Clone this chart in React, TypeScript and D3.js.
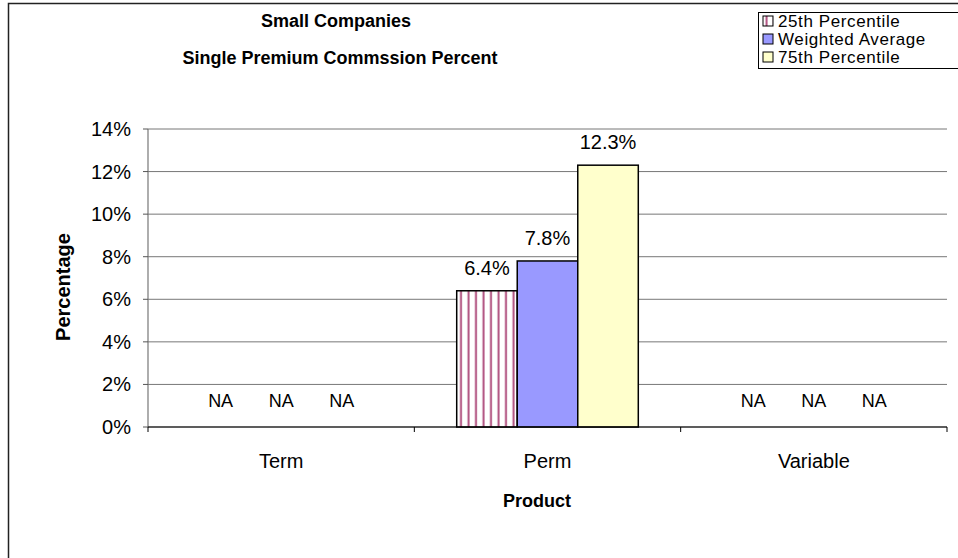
import React from "react";
import * as d3 from "d3";

const categories = ["Term", "Perm", "Variable"];
const seriesNames = ["25th Percentile", "Weighted Average", "75th Percentile"];
// null = NA
const p25: (number | null)[] = [null, 6.4, null];
const wavg: (number | null)[] = [null, 7.8, null];
const p75: (number | null)[] = [null, 12.3, null];
const yTicks = [0, 2, 4, 6, 8, 10, 12, 14];

const seriesValues = [p25, wavg, p75];
const fills = ["url(#vstripe)", "#9999FF", "#FFFFCC"];

const W = 958;
const H = 558;
const FONT = "Arial, 'Liberation Sans', sans-serif";

export default function App() {
  const left = 148;
  const right = 947;
  const top = 129;
  const bottom = 427;

  const x = d3.scaleBand<string>().domain(categories).range([left, right]).paddingInner(0).paddingOuter(0);
  const xs = d3.scaleBand<string>().domain(seriesNames).range([0, x.bandwidth()]).paddingOuter(0.7).paddingInner(0);
  const y = d3.scaleLinear().domain([0, 14]).range([bottom, top]);

  const tickEdges = [left, ...categories.map((c) => (x(c) as number) + x.bandwidth())];

  return (
    <div style={{ position: "absolute", left: 0, top: 0 }}>
      <svg width={W} height={H} style={{ display: "block", fontFamily: FONT }}>
        <defs>
          <pattern id="vstripe" patternUnits="userSpaceOnUse" width={7.5} height={10} x={0}>
            <rect width={7.5} height={10} fill="#ffffff" />
            <rect x={2.5} y={0} width={2} height={10} fill="#B0507F" />
          </pattern>
        </defs>
        <rect x={0} y={0} width={W} height={H} fill="#fff" />
        <rect x={8.5} y={3.5} width={980} height={600} fill="none" stroke="#222" strokeWidth={1.5} />

        {/* gridlines */}
        {yTicks.map((t) => (
          <line key={"g" + t} x1={left} x2={right} y1={y(t)} y2={y(t)} stroke="#777" strokeWidth={1} />
        ))}
        {/* y axis */}
        <line x1={left} x2={left} y1={top} y2={bottom} stroke="#777" strokeWidth={1.2} />
        {yTicks.map((t) => (
          <g key={"yt" + t}>
            <line x1={left - 5} x2={left} y1={y(t)} y2={y(t)} stroke="#555" strokeWidth={1} />
            <text x={131} y={y(t)} dy="0.35em" textAnchor="end" fontSize={20} fill="#000">
              {t}%
            </text>
          </g>
        ))}

        {/* bars */}
        {categories.map((c, ci) =>
          seriesNames.map((s, si) => {
            const v = seriesValues[si][ci];
            const bx = (x(c) as number) + (xs(s) as number);
            const bw = xs.bandwidth();
            if (v == null) {
              return (
                <text key={c + s} x={bx + bw / 2} y={y(0) - 20} textAnchor="middle" fontSize={18} fill="#000">
                  NA
                </text>
              );
            }
            return (
              <g key={c + s}>
                <rect x={bx} y={y(v)} width={bw} height={y(0) - y(v)} fill={fills[si]} stroke="#000" strokeWidth={1.5} />
                <text x={bx + bw / 2} y={y(v) - 16} textAnchor="middle" fontSize={20} fill="#000">
                  {v.toFixed(1)}%
                </text>
              </g>
            );
          })
        )}

        {/* x axis */}
        <line x1={left} x2={right} y1={bottom} y2={bottom} stroke="#000" strokeWidth={1.2} />
        {tickEdges.map((tx, i) => (
          <line key={"xt" + i} x1={tx} x2={tx} y1={bottom} y2={bottom + 5} stroke="#000" strokeWidth={1} />
        ))}
        {categories.map((c) => (
          <text key={"xl" + c} x={(x(c) as number) + x.bandwidth() / 2} y={468} textAnchor="middle" fontSize={20} fill="#000">
            {c}
          </text>
        ))}

        {/* axis titles */}
        <text x={537} y={507} textAnchor="middle" fontSize={18} fontWeight="bold" fill="#000">
          Product
        </text>
        <text transform="translate(70,287) rotate(-90)" textAnchor="middle" fontSize={20} fontWeight="bold" fill="#000">
          Percentage
        </text>

        {/* titles */}
        <text x={336} y={27} textAnchor="middle" fontSize={18} fontWeight="bold" fill="#000">
          Small Companies
        </text>
        <text x={340} y={64} textAnchor="middle" fontSize={18} fontWeight="bold" fill="#000">
          Single Premium Commssion Percent
        </text>

        {/* legend */}
        <rect x={758.5} y={12.5} width={220} height={56} fill="#fff" stroke="#000" strokeWidth={1} />
        {seriesNames.map((s, i) => (
          <g key={"lg" + s} transform={`translate(763,${21 + i * 18})`}>
            <rect x={0} y={-5} width={10} height={10} fill={fills[i]} stroke="#000" strokeWidth={1} />
            <text x={15} y={0} dy="0.36em" fontSize={17} letterSpacing={0.6} fill="#000">
              {s}
            </text>
          </g>
        ))}
      </svg>
    </div>
  );
}
